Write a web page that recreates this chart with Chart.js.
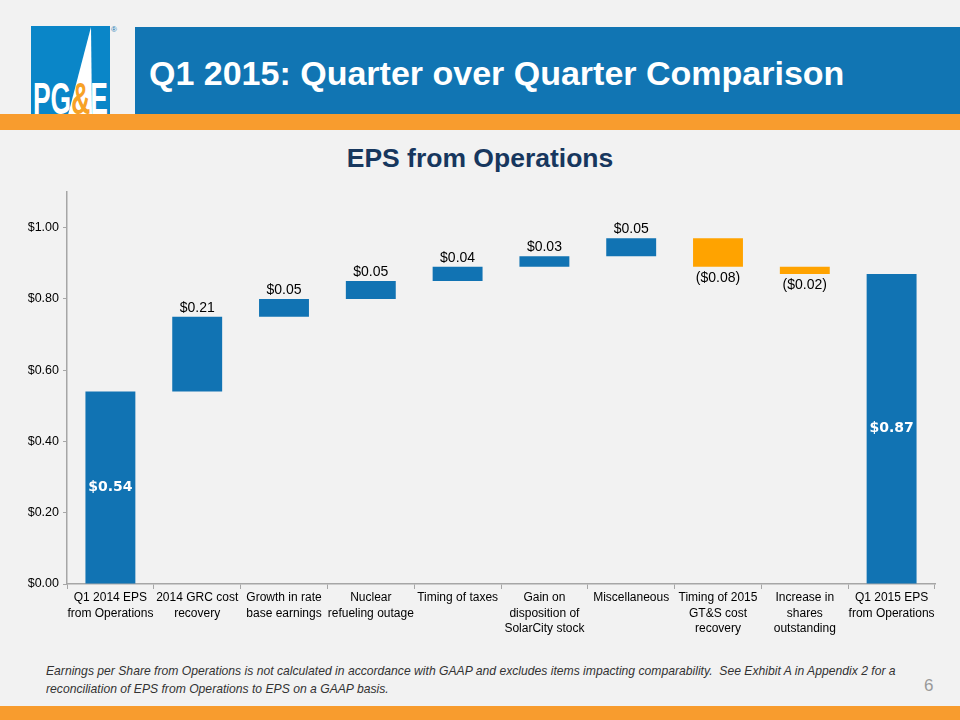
<!DOCTYPE html>
<html>
<head>
<meta charset="utf-8">
<script src="https://cdn.jsdelivr.net/npm/chart.js@4.4.1/dist/chart.umd.min.js"></script>
<style>
  html, body { margin: 0; padding: 0; }
  body { width: 960px; height: 720px; background: #f2f2f2; position: relative; overflow: hidden; font-family: "Liberation Sans", Arial, sans-serif; }
  #banner { position: absolute; left: 135px; top: 27px; width: 825px; height: 88px; background: #1175b3; }
  #banner h1 { margin: 0; position: absolute; left: 14px; top: 27px; color: #fff; font-size: 34px; font-weight: bold; white-space: nowrap; }
  #logo { position: absolute; left: 31px; top: 26px; width: 79px; height: 89px; background: #0a86c8; overflow: hidden; }
  #logo span { position: absolute; left: 2px; top: 51px; line-height: 44px; color: #fff; font-weight: bold; font-size: 44px; transform: scaleX(0.6); transform-origin: left; white-space: nowrap; }
  #logo span b { color: #f7a226; }
  #reg { position: absolute; left: 111px; top: 25px; font-size: 8px; color: #1175b3; }
  #topband { position: absolute; left: 0; top: 114px; width: 960px; height: 16px; background: #f89c2e; }
  #ctitle { position: absolute; left: 0; width: 960px; top: 143px; text-align: center; color: #17375e; font-size: 26.5px; font-weight: bold; }
  #chartbox { position: absolute; left: 0; top: 180px; width: 960px; height: 460px; }
  #note { position: absolute; left: 46px; top: 662px; font-style: italic; font-size: 13.5px; line-height: 18px; color: #333; white-space: nowrap; transform: scaleX(0.9); transform-origin: left top; }
  #page { position: absolute; left: 924px; top: 676px; font-size: 17px; color: #999; }
  #botband { position: absolute; left: 0; top: 706px; width: 960px; height: 14px; background: #f89c2e; }
</style>
</head>
<body>
<div id="logo">
  <svg width="79" height="89" style="position:absolute;left:0;top:0">
    <polygon points="60,1 37,89 61,89" fill="#ffffff"/>
  </svg>
  <span>PG<b>&amp;</b>E</span>
</div>
<div id="reg">&reg;</div>
<div id="banner"><h1>Q1 2015: Quarter over Quarter Comparison</h1></div>
<div id="topband"></div>
<div id="ctitle">EPS from Operations</div>
<div id="chartbox"><canvas id="eps"></canvas></div>
<div id="note">Earnings per Share from Operations is not calculated in accordance with GAAP and excludes items impacting comparability.&nbsp; See Exhibit A in Appendix 2 for a<br>reconciliation of EPS from Operations to EPS on a GAAP basis.</div>
<div id="page">6</div>
<div id="botband"></div>

<script>
// categories and values
const categories = [
    ['Q1 2014 EPS', 'from Operations'],
    ['2014 GRC cost', 'recovery'],
    ['Growth in rate', 'base earnings'],
    ['Nuclear', 'refueling outage'],
    ['Timing of taxes'],
    ['Gain on', 'disposition of', 'SolarCity stock'],
    ['Miscellaneous'],
    ['Timing of 2015', 'GT&S cost', 'recovery'],
    ['Increase in', 'shares', 'outstanding'],
    ['Q1 2015 EPS', 'from Operations']
];
const changes = [0.54, 0.21, 0.05, 0.05, 0.04, 0.03, 0.05, -0.08, -0.02, 0.87];
const isTotal = [true, false, false, false, false, false, false, false, false, true];
const yTicks = [0, 0.2, 0.4, 0.6, 0.8, 1.0];

const BLUE = '#1173b3';
const ORANGE = '#ffa300';

// build floating ranges for the waterfall
let running = 0;
const ranges = changes.map((v, i) => {
    if (isTotal[i]) {
        running = v;
        return [0, v];
    }
    const start = running;
    running = +(running + v).toFixed(2);
    return [start, running];
});
const colors = changes.map(v => v < 0 ? ORANGE : BLUE);

function money(v) {
    const s = '$' + Math.abs(v).toFixed(2);
    return v < 0 ? '(' + s + ')' : s;
}

const labelPlugin = {
    id: 'waterfallLabels',
    afterDatasetsDraw(chart) {
        const ctx = chart.ctx;
        const meta = chart.getDatasetMeta(0);
        ctx.save();
        ctx.textAlign = 'center';
        meta.data.forEach((bar, i) => {
            const v = changes[i];
            const top = Math.min(bar.y, bar.base);
            const bottom = Math.max(bar.y, bar.base);
            if (isTotal[i]) {
                ctx.font = 'bold 14px "DejaVu Sans", Verdana, sans-serif';
                ctx.fillStyle = '#ffffff';
                ctx.textBaseline = 'middle';
                ctx.fillText(money(v), bar.x, (top + bottom) / 2);
            } else if (v < 0) {
                ctx.font = '14px "Liberation Sans", Arial, sans-serif';
                ctx.fillStyle = '#000000';
                ctx.textBaseline = 'top';
                ctx.fillText(money(v), bar.x, bottom + 4);
            } else {
                ctx.font = '14px "Liberation Sans", Arial, sans-serif';
                ctx.fillStyle = '#000000';
                ctx.textBaseline = 'bottom';
                ctx.fillText(money(v), bar.x, top - 2);
            }
        });
        ctx.restore();
    }
};

new Chart(document.getElementById('eps'), {
    type: 'bar',
    data: {
        labels: categories,
        datasets: [{
            data: ranges,
            backgroundColor: colors,
            borderWidth: 0,
            borderSkipped: false,
            categoryPercentage: 1,
            barPercentage: 0.575
        }]
    },
    options: {
        responsive: true,
        maintainAspectRatio: false,
        animation: false,
        layout: { padding: { top: 12, right: 25, left: 0, bottom: 0 } },
        plugins: {
            legend: { display: false },
            tooltip: { enabled: false }
        },
        scales: {
            x: {
                offset: true,
                grid: { display: true, offset: true, drawOnChartArea: false, drawTicks: true, tickLength: 5, color: '#a6a6a6' },
                border: { color: '#a6a6a6', width: 1.5 },
                ticks: {
                    color: '#000',
                    maxRotation: 0,
                    autoSkip: false,
                    padding: 1,
                    font: { family: '"Liberation Sans", Arial, sans-serif', size: 12, lineHeight: 1.3 }
                },
                afterFit(scale) { scale.height = 56; }
            },
            y: {
                min: 0,
                max: 1.1,
                afterBuildTicks(scale) { scale.ticks = yTicks.map(v => ({ value: v })); },
                grid: { display: true, drawOnChartArea: false, drawTicks: true, tickLength: 4, color: '#a6a6a6' },
                border: { color: '#a6a6a6', width: 1.5 },
                ticks: {
                    color: '#000',
                    padding: 4,
                    font: { family: '"Liberation Sans", Arial, sans-serif', size: 12.5 },
                    callback: v => '$' + Number(v).toFixed(2)
                },
                afterFit(scale) { scale.width = 67; }
            }
        }
    },
    plugins: [labelPlugin]
});
</script>
</body>
</html>
